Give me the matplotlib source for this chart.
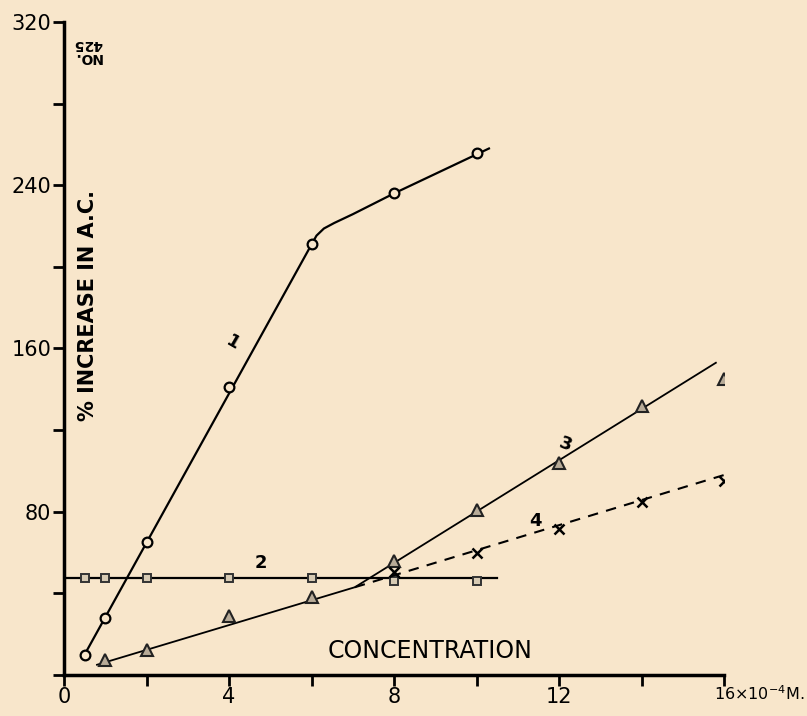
import matplotlib
matplotlib.use('Agg')
import matplotlib.pyplot as plt

# Serie 1 (circulos)
x1 = [0.5, 1, 2, 4, 6, 8, 10]
y1 = [10, 28, 65, 141, 211, 236, 256]
curva1_x = [0.5, 6, 6.12, 6.3, 6.55, 7, 8, 10.3]
curva1_y = [10, 211, 215.3, 218.8, 221.5, 225.8, 236, 258]

# Serie 2 (cuadrados)
x2 = [0.5, 1, 2, 4, 6, 8, 10]
y2 = [47.5, 47.5, 47.5, 47.5, 47.5, 46, 46]
recta2_x = [0, 10.5]
recta2_y = [47.5, 47.5]

# Serie 3 (triangulos)
x3 = [1, 2, 4, 6, 8, 10, 12, 14, 16]
y3 = [7.5, 12, 29, 38, 56, 81, 104, 132, 145]
recta3_x = [0.8, 7.05, 15.8]
recta3_y = [5, 43, 153]

# Serie 4 (cruces, trazo discontinuo)
x4 = [8, 10, 12, 14, 16]
y4 = [50.5, 60, 71.5, 85, 95]
recta4_x = [7.05, 16]
recta4_y = [43, 98]

xticks = [0, 2, 4, 6, 8, 10, 12, 14, 16]
xtick_labels = ['0', '', '4', '', '8', '', '12', '', '']
yticks = [0, 40, 80, 120, 160, 200, 240, 280, 320]
ytick_labels = ['', '', '80', '', '160', '', '240', '', '320']

fondo = '#f8e6cb'

fig = plt.figure(figsize=(8.07, 7.16), dpi=100, facecolor=fondo)
ax = fig.add_axes([0.0793, 0.0573, 0.818, 0.912], facecolor=fondo)

ax.plot(curva1_x, curva1_y, color='black', lw=1.6)
ax.plot(x1, y1, 'o', ms=7, mfc=fondo, mec='black', mew=1.6)

ax.plot(recta2_x, recta2_y, color='black', lw=1.6)
ax.plot(x2, y2, 's', ms=6, mfc='#d8cbb4', mec='#333333', mew=1.4)

ax.plot(recta3_x, recta3_y, color='black', lw=1.3)
ax.plot(x3, y3, '^', ms=8, mfc='#b8ab98', mec='#222222', mew=1.5)

ax.plot(recta4_x, recta4_y, color='black', lw=1.5, ls=(0, (5, 4)))
ax.plot(x4, y4, 'x', ms=7, color='black', mew=1.8)

# Numeros de cada curva
ax.text(4.1, 163, '1', fontsize=13, fontweight='bold', rotation=-30, ha='center', va='center')
ax.text(4.78, 55, '2', fontsize=13, fontweight='bold', ha='center', va='center')
ax.text(12.15, 113, '3', fontsize=13, fontweight='bold', rotation=-20, ha='center', va='center')
ax.text(11.42, 75.5, '4', fontsize=13, fontweight='bold', ha='center', va='center')

ax.text(8.87, 11.8, 'CONCENTRATION', fontsize=17, ha='center', va='center')
ax.text(0.58, 181, '% INCREASE IN A.C.', fontsize=15, fontweight='bold', rotation=90,
        ha='center', va='center')
ax.text(0.58, 306, 'NO.\n425', fontsize=10, fontweight='bold', rotation=180,
        ha='center', va='center', linespacing=0.9)
# Unidades al final del eje x
fig.text(0.997, 0.018, '16×10$^{-4}$M.', fontsize=11.5, ha='right', va='bottom')

ax.set_xlim(0, 16)
ax.set_ylim(0, 320)
ax.set_xticks(xticks)
ax.set_xticklabels(xtick_labels, fontsize=15)
ax.set_yticks(yticks)
ax.set_yticklabels(ytick_labels, fontsize=15)
ax.tick_params(direction='out', length=8, width=2, pad=1)

for lado in ['top', 'right']:
    ax.spines[lado].set_visible(False)
for lado in ['left', 'bottom']:
    ax.spines[lado].set_linewidth(2.5)

plt.savefig('out.png', dpi=100, facecolor=fondo)
plt.close()
